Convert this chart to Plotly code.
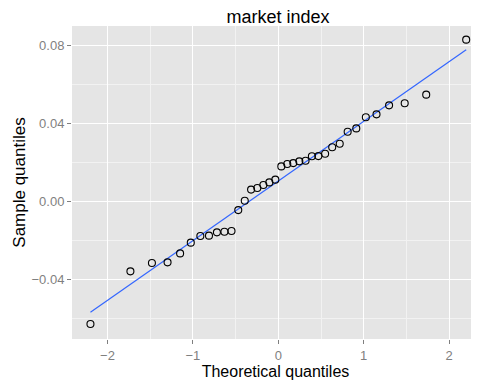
import plotly.graph_objects as go

# Theoretical normal quantiles
theoretical = [-2.200, -1.732, -1.480, -1.297, -1.150, -1.025, -0.913, -0.812, -0.719,
               -0.631, -0.548, -0.469, -0.393, -0.319, -0.246, -0.175, -0.105, -0.035,
               0.035, 0.105, 0.175, 0.246, 0.319, 0.393, 0.469, 0.548, 0.631,
               0.719, 0.812, 0.913, 1.025, 1.150, 1.297, 1.480, 1.732, 2.200]
# Sample quantiles
sample = [-0.0627, -0.0357, -0.0314, -0.0311, -0.0265, -0.0210, -0.0176, -0.0174, -0.0157,
          -0.0154, -0.0150, -0.0043, 0.0005, 0.0062, 0.0070, 0.0086, 0.0099, 0.0113,
          0.0181, 0.0193, 0.0198, 0.0207, 0.0210, 0.0233, 0.0234, 0.0246, 0.0279,
          0.0297, 0.0359, 0.0376, 0.0433, 0.0448, 0.0494, 0.0505, 0.0549, 0.0831]
# Reference line
line_x = [-2.2, 2.2]
line_intercept = 0.0106
line_slope = 0.0306
line_y = [line_intercept + line_slope * v for v in line_x]

x_ticks = [-2, -1, 0, 1, 2]
x_tick_labels = ["\u22122", "\u22121", "0", "1", "2"]
y_ticks = [-0.04, 0.0, 0.04, 0.08]
y_tick_labels = ["\u22120.04", "0.00", "0.04", "0.08"]

FONT = "Liberation Sans, Arial, sans-serif"

fig = go.Figure()
fig.add_trace(go.Scatter(x=line_x, y=line_y, mode="lines",
                         line=dict(color="#3366FF", width=1.2), hoverinfo="skip"))
fig.add_trace(go.Scatter(x=theoretical, y=sample, mode="markers", cliponaxis=False,
                         marker=dict(symbol="circle-open", size=7, color="black",
                                     line=dict(width=1.1, color="black"))))

axis_common = dict(showline=False, zeroline=False, gridcolor="white", gridwidth=1.1,
                   automargin=False,
                   ticks="outside", ticklen=4, tickcolor="#7f7f7f", tickwidth=1,
                   tickfont=dict(family=FONT, size=13, color="#7f7f7f"))

# The page body adds an 8px offset, so figure coords = window coords - 8
W, H = 479, 381
fig.update_layout(
    width=W, height=H,
    margin=dict(l=64, r=8, t=18, b=50),
    paper_bgcolor="white", plot_bgcolor="#E5E5E5",
    showlegend=False,
    title=dict(text="market index", x=270 / W, xanchor="center",
               y=1 - 8.5 / H, yanchor="middle",
               font=dict(family=FONT, size=18, color="black")),
    xaxis=dict(range=[-2.416, 2.35], tickvals=x_ticks, ticktext=x_tick_labels,
               title=dict(text="Theoretical quantiles", standoff=2,
                          font=dict(family=FONT, size=16, color="black")),
               minor=dict(tickvals=[-1.5, -0.5, 0.5, 1.5], showgrid=True, gridcolor="#F2F2F2",
                          gridwidth=0.6, ticks=""),
               **axis_common),
    yaxis=dict(range=[-0.0704, 0.0901], tickvals=y_ticks, ticktext=y_tick_labels,
               title=dict(text="Sample quantiles", standoff=1,
                          font=dict(family=FONT, size=17, color="black")),
               minor=dict(tickvals=[-0.06, -0.02, 0.02, 0.06], showgrid=True, gridcolor="#F2F2F2",
                          gridwidth=0.6, ticks=""),
               **axis_common),
)

fig.write_html("out.html")
